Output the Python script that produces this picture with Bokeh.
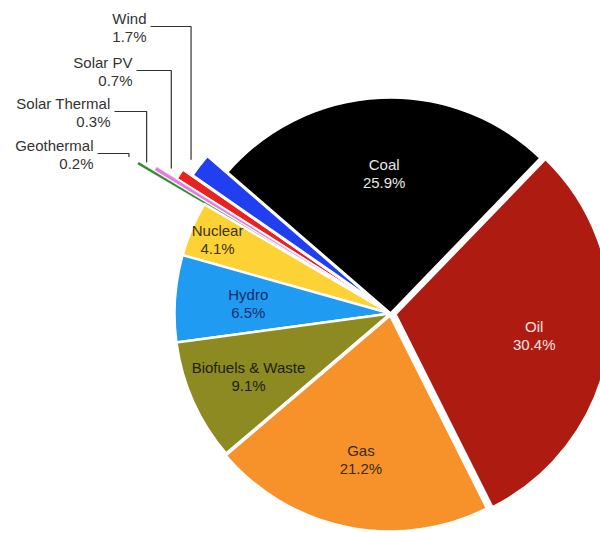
import math
from bokeh.plotting import figure
from bokeh.models import Range1d, ColumnDataSource
from bokeh.embed import file_html
from bokeh.resources import INLINE
from bokeh.core.properties import value

# ---- data (counter-clockwise order starting at the Coal/Oil boundary) ----
sources = ["Coal", "Wind", "Solar PV", "Solar Thermal", "Geothermal",
           "Nuclear", "Hydro", "Biofuels & Waste", "Gas", "Oil"]
shares = [25.9, 1.7, 0.7, 0.3, 0.2, 4.1, 6.5, 9.1, 21.2, 30.4]
pct_labels = ["25.9%", "1.7%", "0.7%", "0.3%", "0.2%",
              "4.1%", "6.5%", "9.1%", "21.2%", "30.4%"]
colors = ["#000000", "#1f3ff0", "#e8231f", "#e57be2", "#2e8a2e",
          "#fdd235", "#1f9bf2", "#8c8a20", "#f7922b", "#ae1b10"]

# ---- layout / style (picture pixel geometry) ----
PAGE_H = 533
W, H = 600, 533
CX, CY = 390, PAGE_H - 313
R = 216
START = math.radians(46)
FONT = "Liberation Sans"
explode = {"Coal": 0, "Oil": 5, "Gas": 2, "Wind": 25, "Solar PV": 36,
           "Solar Thermal": 60, "Geothermal": 78}
stroke = {"Wind": 1.2, "Solar PV": 1.0, "Solar Thermal": 0.4, "Geothermal": 0.3}
inside = {"Coal": (0.65, "#e6e6e6"), "Oil": (0.65, "#f6e2e0"),
          "Gas": (0.68, "#3b2a14"), "Biofuels & Waste": (0.72, "#1e1e10"),
          "Hydro": (0.66, "#1a2c6e"), "Nuclear": (0.87, "#3a3218")}
outside = {"Wind": (146, 18), "Solar PV": (132, 62),
           "Solar Thermal": (110, 103), "Geothermal": (93, 145)}

total = sum(shares)
xs, ys, starts, ends, lws, mids = [], [], [], [], [], []
a = START
for name, v in zip(sources, shares):
    span = v / total * 2 * math.pi
    mid = a + span / 2
    e = explode.get(name, 0)
    xs.append(CX + e * math.cos(mid))
    ys.append(CY + e * math.sin(mid))
    starts.append(a)
    ends.append(a + span)
    lws.append(stroke.get(name, 2.5))
    mids.append(mid)
    a += span

src = ColumnDataSource(dict(x=xs, y=ys, start=starts, end=ends,
                            color=colors, lw=lws))

p = figure(width=W, height=H, x_range=Range1d(0, W),
           y_range=Range1d(PAGE_H - H, PAGE_H), output_backend="svg",
           toolbar_location=None, min_border=0,
           x_axis_type=None, y_axis_type=None)
p.grid.visible = False
p.outline_line_color = None
p.background_fill_color = "white"
p.border_fill_color = "white"

p.wedge(x="x", y="y", radius=R, start_angle="start", end_angle="end",
        fill_color="color", line_color="white", line_width="lw", source=src)

# inside labels
for i, name in enumerate(sources):
    if name in inside:
        frac, col = inside[name]
        lx = xs[i] + frac * R * math.cos(mids[i])
        ly = ys[i] + frac * R * math.sin(mids[i])
        p.text(x=[lx, lx], y=[ly + 9, ly - 9], text=[name, pct_labels[i]],
               text_align="center", text_baseline="middle",
               text_font=value(FONT), text_font_size="15px", text_color=col)

# outside labels with leader lines
for i, name in enumerate(sources):
    if name in outside:
        tx, ty = outside[name]
        p.text(x=[tx, tx], y=[PAGE_H - ty, PAGE_H - ty - 18],
               text=[name, pct_labels[i]], text_align="right",
               text_baseline="middle", text_font=value(FONT),
               text_font_size="15px", text_color="#333333")
        ox = xs[i] + R * math.cos(mids[i])
        oy = ys[i] + R * math.sin(mids[i])
        vx = ox - 9
        vy_end = oy + 6
        hy = PAGE_H - ty - 8
        p.line(x=[tx + 4, vx, vx], y=[hy, hy, vy_end],
               line_color="#333333", line_width=1.2)

open("out.html", "w").write(file_html(p, INLINE))
